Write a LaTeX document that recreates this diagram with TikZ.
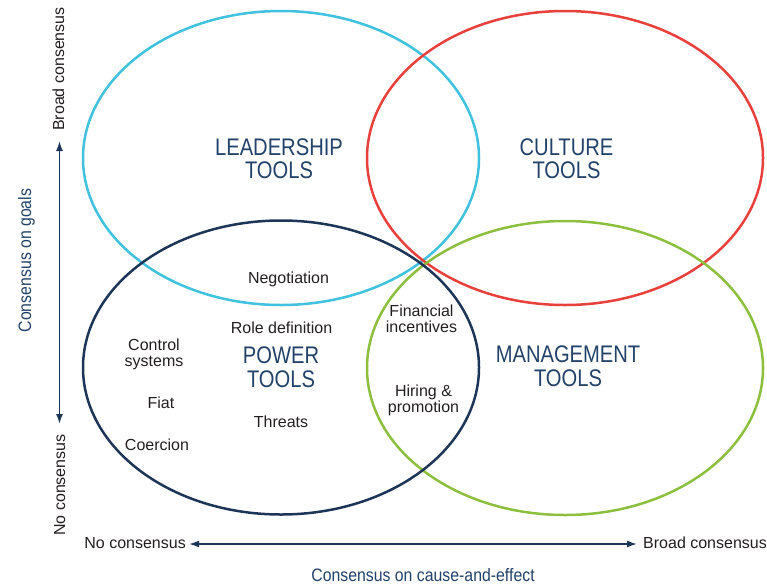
\documentclass[tikz,border=0pt]{standalone}
\usepackage{fontspec}
\setmainfont{Liberation Sans}
\newfontfamily\condfont[FakeStretch=0.84]{Liberation Sans}
\newfontfamily\axisfont[FakeStretch=0.88]{Liberation Sans}
\usetikzlibrary{arrows.meta}
\definecolor{lcyan}{HTML}{40C1DD}
\definecolor{lred}{HTML}{E8413C}
\definecolor{lnavy}{HTML}{1D3658}
\definecolor{lgreen}{HTML}{8DBF3F}
\definecolor{ltext}{HTML}{231F20}
\definecolor{ltitle}{HTML}{22426A}
\tikzset{
  setring/.style={line width=2.5pt},
  toolname/.style={text=ltitle, align=center, inner sep=0pt,
    font=\condfont\fontsize{24}{23.5}\selectfont},
  item/.style={text=ltext, align=center, inner sep=0pt,
    font=\fontsize{16}{16.5}\selectfont},
  endlabel/.style={text=ltext, inner sep=0pt, font=\fontsize{16}{16.5}\selectfont},
  axistitle/.style={text=ltitle, inner sep=0pt, font=\axisfont\fontsize{18}{18}\selectfont},
  axisarrow/.style={draw=lnavy, line width=1.6pt, {Latex[length=10pt,width=7pt]}-{Latex[length=10pt,width=7pt]}}
}
\begin{document}
\begin{tikzpicture}[x=1pt,y=-1pt]
\useasboundingbox (0,0) rectangle (767,587);
% sets
\draw[setring, lcyan] (281,158) ellipse [x radius=198, y radius=147];
\draw[setring, lred] (565,158) ellipse [x radius=198, y radius=147];
\draw[setring, lgreen] (565,368) ellipse [x radius=198, y radius=147];
\draw[setring, lnavy] (281,367.5) ellipse [x radius=198, y radius=147];
% titles
\node[toolname] (lead) at (279,158.5) {LEADERSHIP\\TOOLS};
\node[toolname] (cult) at (566.5,158.5) {CULTURE\\TOOLS};
\node[toolname] (power) at (281,367) {POWER\\TOOLS};
\node[toolname] (mgmt) at (568,366) {MANAGEMENT\\TOOLS};
% items
\node[item, anchor=base] (nego) at (288.5,283.5) {Negotiation};
\node[item, anchor=base] (role) at (281.5,333) {Role definition};
\node[item] (ctrl) at (154,354.5) {Control\\systems};
\node[item, anchor=base] (fiat) at (161,408) {Fiat};
\node[item, anchor=base] (threat) at (281,427) {Threats};
\node[item, anchor=base] (coer) at (157,450) {Coercion};
\node[item] (fin) at (421.5,318.7) {Financial\\incentives};
\node[item] (hire) at (423.5,400.4) {Hiring \&\\promotion};
% axes
\node[endlabel, rotate=90, anchor=base] (vbroad) at (64,69) {Broad consensus};
\node[endlabel, rotate=90, anchor=base] (vno) at (65,485) {No consensus};
\coordinate (vtop) at (59.5,141);
\coordinate (vbot) at (59.5,424);
\draw[axisarrow] (vtop) -- (vbot);
\node[axistitle, rotate=90, anchor=base] (goals) at (31,260.5) {Consensus on goals};
\node[endlabel, anchor=base east] (hno) at (186,548.5) {No consensus};
\node[endlabel, anchor=base west] (hbroad) at (643,548.5) {Broad consensus};
\draw[axisarrow] ([xshift=3pt,yshift=4.5pt]hno.base east) -- ([xshift=-6pt,yshift=4.5pt]hbroad.base west);
\node[axistitle, anchor=base] (cause) at (423,581.7) {Consensus on cause-and-effect};
\end{tikzpicture}
\end{document}
